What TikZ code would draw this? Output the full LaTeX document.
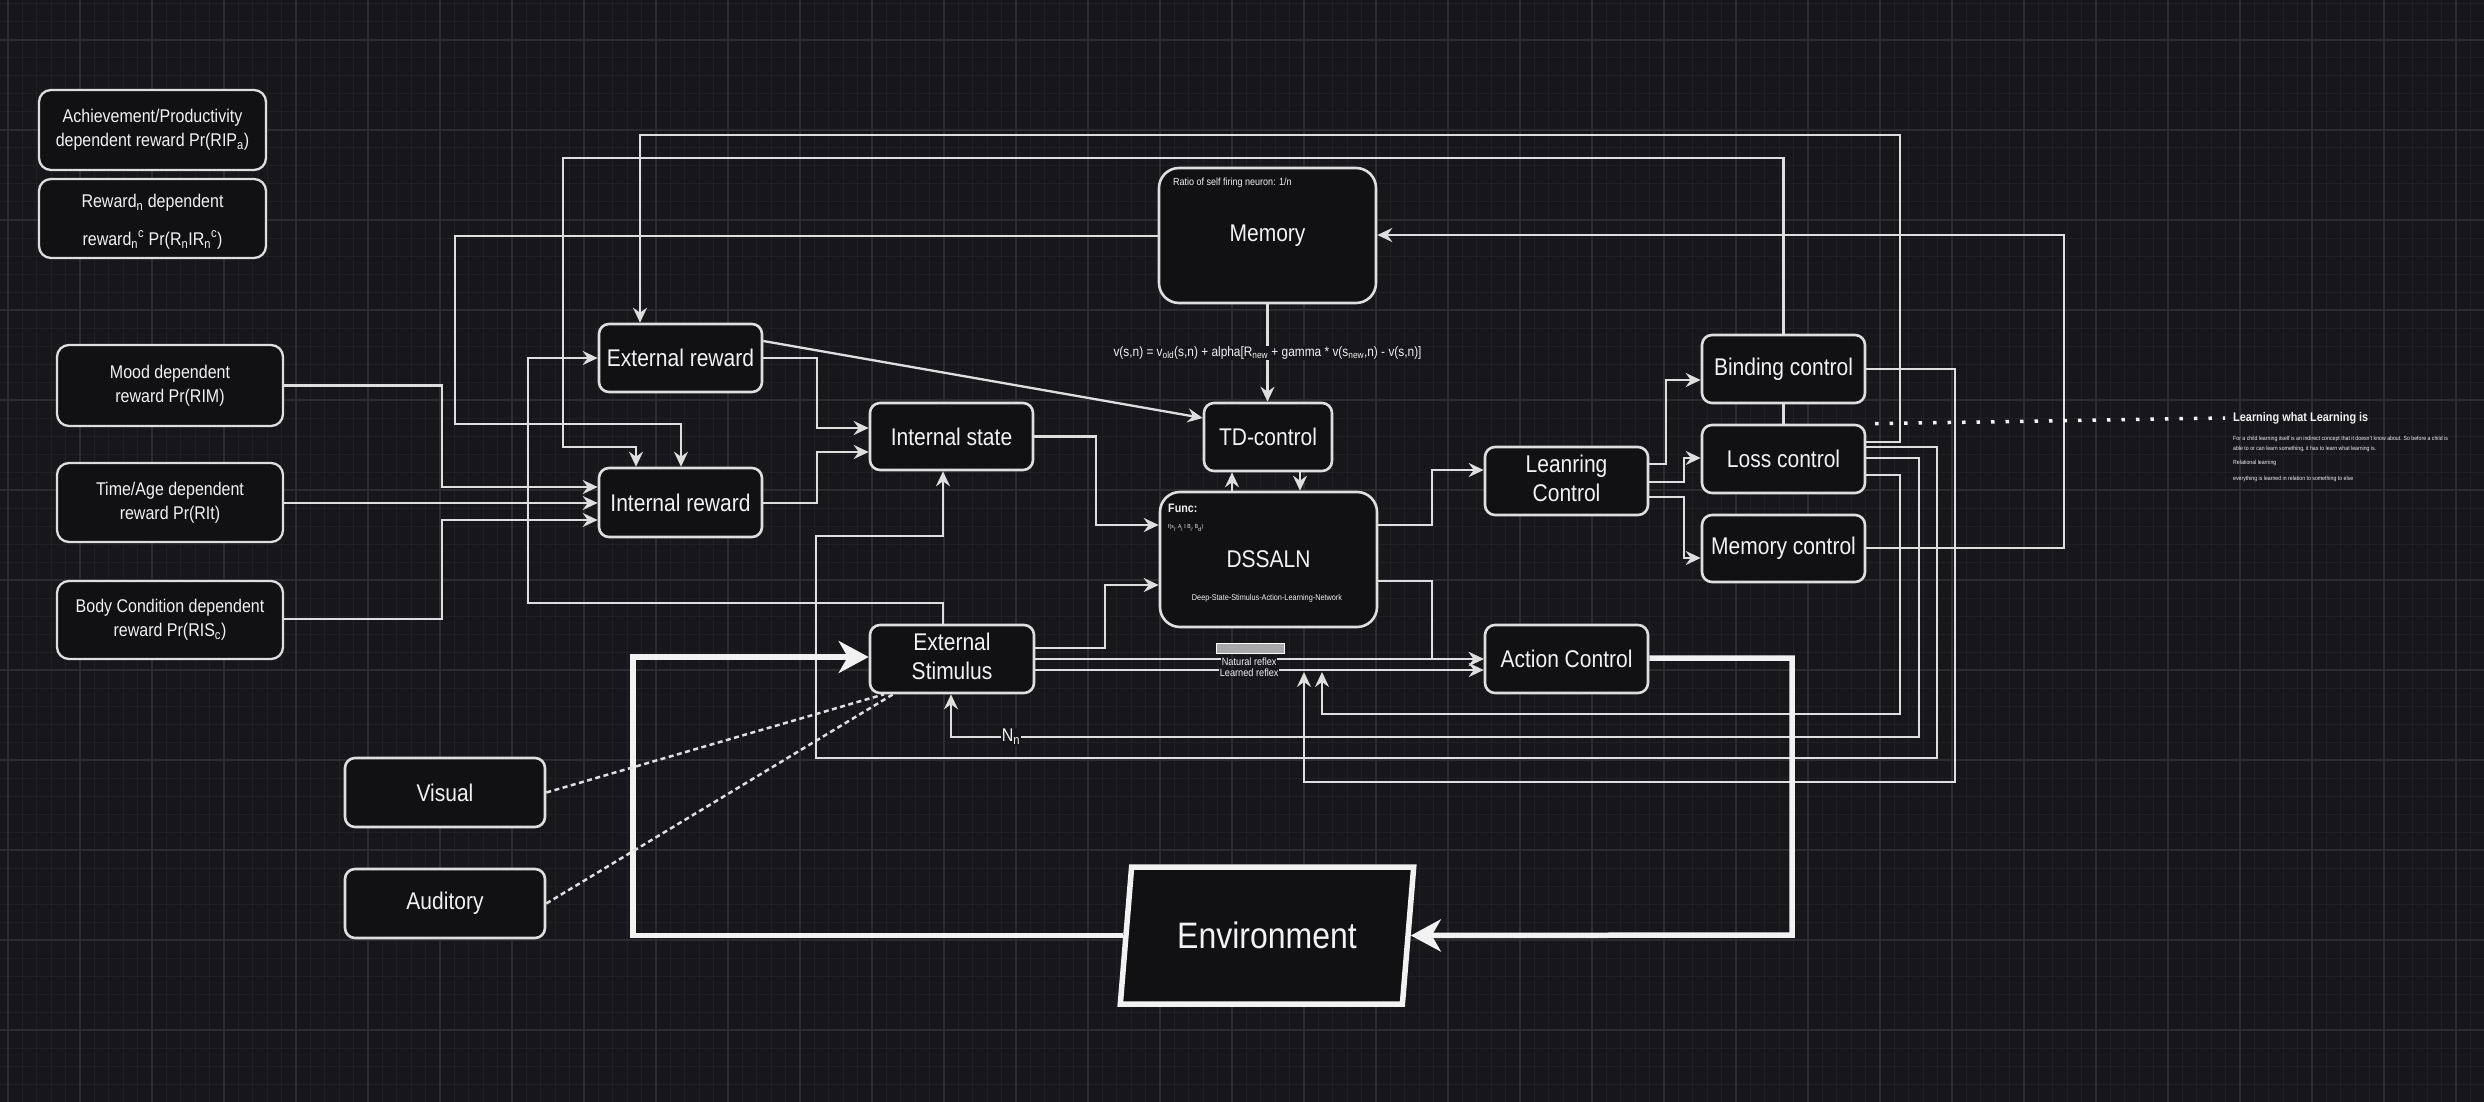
\documentclass[tikz,border=0pt]{standalone}
\usepackage{fontspec}
\setmainfont{Liberation Sans}
\usepackage{graphicx}
\usetikzlibrary{arrows.meta,shapes.geometric}
\definecolor{bgc}{HTML}{17171B}
\definecolor{gmin}{HTML}{1F1F24}
\definecolor{gmaj}{HTML}{2B2B30}
\definecolor{boxfill}{HTML}{111114}
\definecolor{strk}{HTML}{DEDEDE}
\definecolor{txtc}{HTML}{F2F2F2}
\definecolor{garbc}{HTML}{A8A8AC}
\pgfdeclarelayer{bg}
\pgfdeclarelayer{edges}
\pgfsetlayers{bg,edges,main}
\newcommand\SY[1]{\scalebox{1}[1.15]{#1}}
\newcommand\ML[1]{\SY{\begin{tabular}{@{}c@{}}#1\end{tabular}}}
\newcommand\fsz[2]{\fontsize{#1}{#2}\selectfont}
\tikzset{
  box/.style={draw=strk, line width=2.6pt, fill=boxfill, rounded corners=10pt, inner sep=0pt, text=txtc, font=\fsz{21}{26}},
  bigbox/.style={box, rounded corners=20pt},
  lbox/.style={box, line width=2.3pt, rounded corners=12pt, font=\fsz{16}{21}},
  conn/.style={draw=strk, line width=2.3pt, -{Stealth[length=15pt,width=14pt,inset=5pt]}},
  thickconn/.style={draw=txtc, line width=5.5pt, -{Stealth[length=30pt,width=32pt,inset=9pt]}},
  dashconn/.style={draw=strk, line width=2.5pt, dash pattern=on 5pt off 3.5pt},
  dotline/.style={draw=txtc, line width=3.5pt, dash pattern=on 3.5pt off 11pt},
  lbl/.style={fill=bgc, inner sep=0.5pt, text=txtc, font=\fsz{9.2}{10}},
  lbl2/.style={fill=bgc, inner sep=1pt, text=txtc, font=\fsz{16}{18}},
  formula/.style={fill=bgc, inner sep=1pt, text=txtc},
  smalltext/.style={anchor=west, inner sep=0pt, text=txtc},
  envbox/.style={draw=txtc, line width=5.5pt, fill=boxfill, trapezium, trapezium left angle=74.5, trapezium right angle=105.5, trapezium stretches=true, minimum width=294pt, minimum height=137pt, inner sep=0pt, text=txtc, font=\fsz{32}{38}}
}
\begin{document}
\begin{tikzpicture}[x=1pt,y=-1pt]
\useasboundingbox (0,0) rectangle (2484,1102);
\begin{pgfonlayer}{bg}
\fill[bgc] (0,0) rectangle (2484,1102);
\foreach \i in {0,...,172} \draw[gmin, line width=1pt] ({8+14.4*\i},0) -- ({8+14.4*\i},1102);
\foreach \i in {-2,...,59} \draw[gmin, line width=1pt] (0,{40+18*\i}) -- (2484,{40+18*\i});
\foreach \i in {0,...,34} \draw[gmaj, line width=1.5pt] ({8+72*\i},0) -- ({8+72*\i},1102);
\foreach \i in {0,...,12} \draw[gmaj, line width=1.5pt] (0,{40+90*\i}) -- (2484,{40+90*\i});
\end{pgfonlayer}

% ---- nodes
\node[lbox, minimum width=227pt, minimum height=80pt] (ach) at (152.5,130) {\ML{Achievement/Productivity\\dependent reward Pr(RIP\textsubscript{a})}};
\node[lbox, minimum width=227pt, minimum height=79pt, font=\fsz{16}{33}] (rwn) at (152.5,218.5) {\ML{Reward\textsubscript{n} dependent\\reward\textsubscript{n}\textsuperscript{c} Pr(R\textsubscript{n}IR\textsubscript{n}\textsuperscript{c})}};
\node[lbox, minimum width=226pt, minimum height=81pt] (mood) at (170,385.5) {\ML{Mood dependent\\reward Pr(RIM)}};
\node[lbox, minimum width=226pt, minimum height=79pt] (time) at (170,502.5) {\ML{Time/Age dependent\\reward Pr(RIt)}};
\node[lbox, minimum width=226pt, minimum height=78pt] (body) at (170,620) {\ML{Body Condition dependent\\reward Pr(RIS\textsubscript{c})}};
\node[box, minimum width=200pt, minimum height=69pt] (visual) at (445,792.5) {\SY{Visual}};
\node[box, minimum width=200pt, minimum height=69pt] (audit) at (445,903.5) {\SY{Auditory}};
\node[box, minimum width=163pt, minimum height=68pt] (extrew) at (680.5,358) {\SY{External reward}};
\node[box, minimum width=163pt, minimum height=69pt] (intrew) at (680.5,502.5) {\SY{Internal reward}};
\node[box, minimum width=163pt, minimum height=67pt] (intst) at (951.5,436.5) {\SY{Internal state}};
\node[box, minimum width=164pt, minimum height=68pt] (extst) at (952,659) {\ML{External\\Stimulus}};
\node[bigbox, minimum width=217pt, minimum height=135pt] (memory) at (1267.5,235.5) {\SY{Memory}};
\node[box, minimum width=128pt, minimum height=68pt] (td) at (1268,437) {\SY{TD-control}};
\node[bigbox, minimum width=217pt, minimum height=135pt] (dssaln) at (1268.5,559.5) {\SY{DSSALN}};
\node[box, minimum width=163pt, minimum height=68pt] (lc) at (1566.5,481) {\ML{Leanring\\Control}};
\node[box, minimum width=163pt, minimum height=68pt] (ac) at (1566.5,659) {\SY{Action Control}};
\node[box, minimum width=163pt, minimum height=68pt] (bind) at (1783.5,369) {\SY{Binding control}};
\node[box, minimum width=163pt, minimum height=68pt] (loss) at (1783.5,459) {\SY{Loss control}};
\node[box, minimum width=163pt, minimum height=67pt] (memc) at (1783.5,548.5) {\SY{Memory control}};
\node[envbox] (env) at (1267,935.5) {\SY{Environment}};

% texts inside boxes
\node[smalltext, font=\fsz{9}{11}] (ratio) at (1173,183) {\SY{Ratio of self firing neuron: 1/n}};
\node[smalltext, font=\bfseries\fsz{10.7}{12}] (func) at (1168,508) {\SY{Func:}};
\node[smalltext, font=\fsz{5}{6}] (ffun) at (1168,528) {\SY{f(s\textsubscript{i}, A\textsubscript{i} I B\textsubscript{i}, B\textsubscript{d})}};
\node[inner sep=0pt, text=txtc, font=\fsz{7.3}{9}] (dsub) at (1267,598) {\SY{Deep-State-Stimulus-Action-Learning-Network}};
\node[fill=garbc, draw=white, line width=1pt, minimum width=68pt, minimum height=10pt, inner sep=0pt] (garb) at (1250,648) {};

% side note
\node[smalltext, font=\bfseries\fsz{10.9}{13}] (learn) at (2233,418) {\SY{Learning what Learning is}};
\node[smalltext, font=\fsz{5.2}{6.5}] (lt1) at (2233,439) {\SY{For a child learning itself is an indirect concept that it doesn't know about. So before a child is}};
\node[smalltext, font=\fsz{5.2}{6.5}] (lt2) at (2233,449) {\SY{able to or can learn something, it has to learn what learning is.}};
\node[smalltext, font=\fsz{5.2}{6.5}] (lt3) at (2233,463) {\SY{Relational learning}};
\node[smalltext, font=\fsz{5.2}{6.5}] (lt4) at (2233,479) {\SY{everything is learned in relation to something to else}};

% ---- connectors
\begin{pgfonlayer}{edges}
\draw[conn] (mood.east) -| (442,487) -- (intrew.west |- 0,487);
\draw[conn] (time.east |- 0,503) -- (intrew.west |- 0,503);
\draw[conn] (body.east |- 0,619) -| (442,520) -- (intrew.west |- 0,520);
\draw[conn] (memory.west |- 0,236) -| (455,424) -| (intrew.north -| 681,0);
\draw[conn] (loss.north) |- (563,158) |- (636,447) -- (intrew.north -| 636,0);
\draw[conn] (loss.east |- 0,442) -| (1900,135) -| (extrew.north -| 640,0);
\draw[conn] (extst.north -| 943,0) |- (528,603) |- (extrew.west |- 0,358);
\draw[conn] (extrew.east |- 0,358) -| (817,428) -- (intst.west |- 0,428);
\draw[conn] (intrew.east |- 0,503) -| (817,452) -- (intst.west |- 0,452);
\draw[conn] (extrew.east |- 0,341) -- (td.west |- 0,418);
\draw[conn] (intst.east) -| (1096,525) -- (dssaln.west |- 0,525);
\draw[conn] (loss.east |- 0,447) -| (1937,758) -| (816,536) -| (intst.south -| 943,0);
\draw[conn] (extst.east |- 0,648) -| (1105,585) -- (dssaln.west |- 0,585);
\draw[conn] (dssaln.north -| 1232,0) -- (td.south -| 1232,0);
\draw[conn] (td.south -| 1300,0) -- (dssaln.north -| 1300,0);
\draw[conn] (memory.south) -- node[formula] (fml) {\SY{\resizebox{308pt}{!}{\fsz{14}{16}v(s,n) = v\textsubscript{old}(s,n) + alpha[R\textsubscript{new} + gamma * v(s\textsubscript{new},n) - v(s,n)]}}} (memory.south |- td.north);
\draw[conn] (dssaln.east |- 0,525) -| (1432,470) -- (lc.west |- 0,470);
\draw[conn] (dssaln.east |- 0,581) -| (1432,659) -- (ac.west |- 0,659);
\draw[conn] (extst.east |- 0,659) -- node[lbl, pos=0.477, yshift=-3pt] (nrl) {\SY{Natural reflex}} (ac.west |- 0,659);
\draw[conn] (extst.east |- 0,670) -- node[lbl, pos=0.477, yshift=-3pt] (lrl) {\SY{Learned reflex}} (ac.west |- 0,670);
\coordinate (lr1) at (1304,672);
\coordinate (lr2) at (1322,672);
\draw[conn] (bind.east) -| (1955,782) -| (lr1);
\draw[conn] (loss.east |- 0,475) -| (1900,714) -| (lr2);
\draw[conn] (loss.east |- 0,458) -| (1919,737) -- node[lbl2, pos=0.938] (nn) {\SY{N\textsubscript{n}}} (951,737) -- (extst.south -| 951,0);
\draw[conn] (lc.east |- 0,464) -| (1666,380) -- (bind.west |- 0,380);
\draw[conn] (lc.east |- 0,482) -| (1684,458) -- (loss.west |- 0,458);
\draw[conn] (lc.east |- 0,497) -| (1684,558) -- (memc.west |- 0,558);
\draw[conn] (memc.east |- 0,548) -| (2064,235) -- (memory.east |- 0,235);
\draw[thickconn] (ac.east |- 0,658) -| (1792,935) -- (env.east);
\draw[thickconn] (env.west) -| (633,657) -- (extst.west |- 0,657);
\draw[dashconn] (visual.east) -- (extst.south -| 884,0);
\draw[dashconn] (audit.east) -- (extst.south -| 893,0);
\draw[dotline] (loss.north east -| 1875,0) -- (learn.west -| 2225,0);
\end{pgfonlayer}
\end{tikzpicture}
\end{document}
